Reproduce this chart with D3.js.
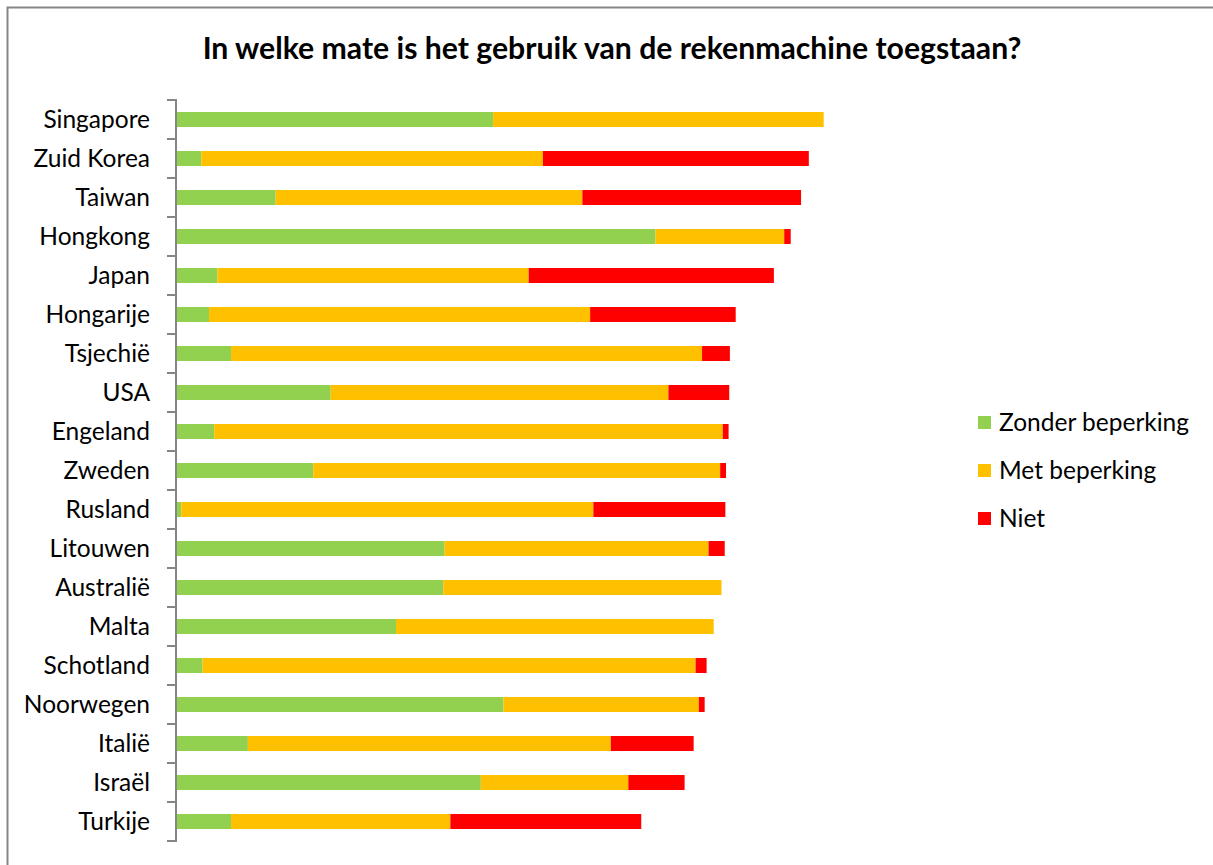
<!DOCTYPE html>
<html>
<head>
<meta charset="utf-8">
<script src="https://cdn.jsdelivr.net/npm/d3@7"></script>
<style>
  body { margin: 0; background: #fff; }
  svg { display: block; font-family: Lato, "Open Sans", sans-serif; }
</style>
</head>
<body>
<div id="chart"></div>
<script>
const countries = ["Singapore", "Zuid Korea", "Taiwan", "Hongkong", "Japan", "Hongarije", "Tsjechië", "USA",
  "Engeland", "Zweden", "Rusland", "Litouwen", "Australië", "Malta", "Schotland", "Noorwegen", "Italië", "Israël", "Turkije"]

const series = ["Zonder beperking", "Met beperking", "Niet"]

const zonder = [48.9, 3.8, 15.3, 74.0, 6.3, 5.0, 8.4, 23.8, 5.8, 21.1, 0.7, 41.4, 41.2, 33.9, 4.0, 50.5, 11.0, 47.0, 8.4]
const met    = [51.1, 52.8, 47.4, 19.9, 48.1, 58.9, 72.8, 52.2, 78.6, 62.9, 63.7, 40.8, 43.0, 49.1, 76.2, 30.2, 56.1, 22.8, 33.9]
const niet   = [0, 41.1, 33.8, 1.0, 37.9, 22.5, 4.3, 9.4, 0.9, 0.9, 20.4, 2.5, 0, 0, 1.7, 0.9, 12.8, 8.7, 29.5]

const colors = ["#92D050", "#FFC000", "#FF0000"]

const width = 1213
const height = 865

const rows = countries.map((c, i) => ({
  country: c,
  "Zonder beperking": zonder[i],
  "Met beperking": met[i],
  "Niet": niet[i]
}))

const svg = d3.select("#chart")
              .append("svg")
              .attr("width", width)
              .attr("height", height)

// chart area border (runs off the right and bottom edge)
svg.append("rect")
   .attr("x", 7.5)
   .attr("y", 7.5)
   .attr("width", 1220)
   .attr("height", 880)
   .attr("fill", "none")
   .attr("stroke", "#868686")
   .attr("stroke-width", 2)

svg.append("text")
   .attr("x", 612)
   .attr("y", 59)
   .attr("text-anchor", "middle")
   .attr("font-size", 30.2)
   .attr("font-weight", "bold")
   .attr("fill", "#000")
   .text("In welke mate is het gebruik van de rekenmachine toegstaan?")

const x = d3.scaleLinear()
            .domain([0, 100])
            .range([176.7, 823.7])

const y = d3.scaleBand()
            .domain(countries)
            .range([100, 841])
            .paddingInner(0.615)
            .paddingOuter(0.3075)

const stack = d3.stack().keys(series)(rows)

svg.append("g")
   .selectAll("g")
   .data(stack)
   .enter()
   .append("g")
   .attr("fill", (d, i) => colors[i])
   .selectAll("rect")
   .data(d => d)
   .enter()
   .append("rect")
   .attr("x", d => x(d[0]))
   .attr("y", d => y(d.data.country))
   .attr("width", d => x(d[1]) - x(d[0]))
   .attr("height", y.bandwidth())

// category axis, ticks sit between the categories like in the original
const yAxis = d3.axisLeft(y).tickSize(0).tickPadding(26)
const axisG = svg.append("g")
                 .attr("transform", "translate(176,1)")
                 .call(yAxis)

axisG.select(".domain").remove()
axisG.selectAll("text")
     .attr("font-size", 24.5)
     .attr("fill", "#000")
     .attr("font-family", "Lato, sans-serif")

const bounds = d3.range(countries.length + 1).map(i => 100 + i * y.step())

svg.append("line")
   .attr("x1", 176).attr("x2", 176)
   .attr("y1", 100).attr("y2", 842)
   .attr("stroke", "#868686")
   .attr("stroke-width", 2)

svg.append("g")
   .selectAll("line")
   .data(bounds)
   .enter()
   .append("line")
   .attr("x1", 167).attr("x2", 177)
   .attr("y1", d => d).attr("y2", d => d)
   .attr("stroke", "#868686")
   .attr("stroke-width", 2)

// legend
const legend = svg.append("g")
                  .attr("transform", "translate(978,416)")

const items = legend.selectAll("g")
                    .data(series)
                    .enter()
                    .append("g")
                    .attr("transform", (d, i) => `translate(0,${i * 48})`)

items.append("rect")
     .attr("width", 13)
     .attr("height", 13)
     .attr("fill", (d, i) => colors[i])

items.append("text")
     .attr("x", 21)
     .attr("y", 15)
     .attr("font-size", 24.5)
     .attr("fill", "#000")
     .text(d => d)
</script>
</body>
</html>
